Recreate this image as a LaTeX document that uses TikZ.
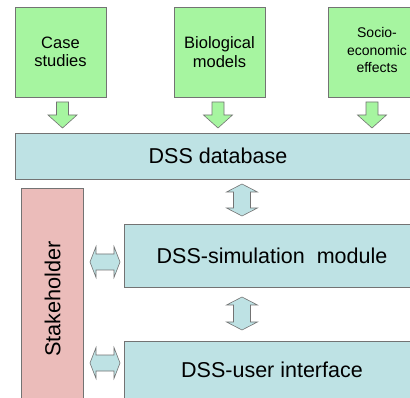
\documentclass[tikz,border=0pt]{standalone}
\usepackage{fontspec}
\setmainfont{Liberation Sans}
\definecolor{gfill}{RGB}{166,245,160}
\definecolor{bfill}{RGB}{190,226,228}
\definecolor{pfill}{RGB}{235,188,186}
\definecolor{edge}{RGB}{115,115,115}
\tikzset{
  box/.style={draw=edge, line width=0.8pt, inner sep=0pt, align=center, text=black},
  greenbox/.style={box, fill=gfill, minimum width=91pt, minimum height=90pt,
     font=\fontsize{16.5}{18.5}\selectfont},
  bluebox/.style={box, fill=bfill, font=\fontsize{21.5}{24}\selectfont},
  pinkbox/.style={box, fill=pfill},
  garrow/.style={draw=edge, line width=0.6pt, fill=gfill},
  barrow/.style={draw=edge, line width=0.6pt, fill=bfill}
}
% vertical double arrow: centre x, top y, bottom y
\newcommand\vdarr[3]{\draw[barrow] (#1,#2) -- ({#1+15.5},{#2+8}) -- ({#1+8.5},{#2+8})
  -- ({#1+8.5},{#3-8}) -- ({#1+15.5},{#3-8}) -- (#1,#3) -- ({#1-15.5},{#3-8})
  -- ({#1-8.5},{#3-8}) -- ({#1-8.5},{#2+8}) -- ({#1-15.5},{#2+8}) -- cycle;}
% horizontal double arrow: left x, right x, centre y
\newcommand\hdarr[3]{\draw[barrow] (#1,#3) -- ({#1+6},{#3-15.5}) -- ({#1+6},{#3-8})
  -- ({#2-6},{#3-8}) -- ({#2-6},{#3-15.5}) -- (#2,#3) -- ({#2-6},{#3+15.5})
  -- ({#2-6},{#3+8}) -- ({#1+6},{#3+8}) -- ({#1+6},{#3+15.5}) -- cycle;}
% green down arrow: centre x
\newcommand\gdarr[1]{\draw[garrow] ({#1-6},102) -- ({#1+6},102) -- ({#1+6},115)
  -- ({#1+14.5},115) -- (#1,128) -- ({#1-14.5},115) -- ({#1-6},115) -- cycle;}
\begin{document}
\begin{tikzpicture}[x=1pt,y=-1pt]
\useasboundingbox[fill=white] (0,0) rectangle (410,398);
\clip (0,0) rectangle (410,398);
% input boxes
\node[greenbox] (case) at (60.5,52) {Case\\studies};
\node[greenbox] (bio) at (219.5,52) {Biological\\models};
\node[greenbox, minimum width=92pt] (socio) at (374,52) {};
\node[font=\fontsize{14}{17.5}\selectfont, align=center, inner sep=0pt] (sociotext) at (377,50) {Socio-\\economic\\effects};
% main blocks
\node[bluebox, minimum width=406pt, minimum height=46pt] (db) at (218,156) {DSS database};
\node[pinkbox, minimum width=62pt, minimum height=222pt] (stake) at (52,299) {};
\node[rotate=90, font=\fontsize{21.7}{24}\selectfont, inner sep=0pt] (staketext) at (52.5,299) {Stakeholder};
\node[bluebox, minimum width=296pt, minimum height=63pt] (sim) at (272,255.5) {DSS-simulation\ \ module};
\node[bluebox, minimum width=296pt, minimum height=64pt] (ui) at (272,373) {};
\node[font=\fontsize{21.5}{24}\selectfont, inner sep=0pt] (uitext) at (272,369.5) {DSS-user interface};
% arrows
\gdarr{62.5}
\gdarr{218}
\gdarr{372}
\vdarr{242}{184}{216}
\vdarr{242}{297}{330}
\hdarr{90}{120}{262}
\hdarr{90}{120}{363}
\end{tikzpicture}
\end{document}
